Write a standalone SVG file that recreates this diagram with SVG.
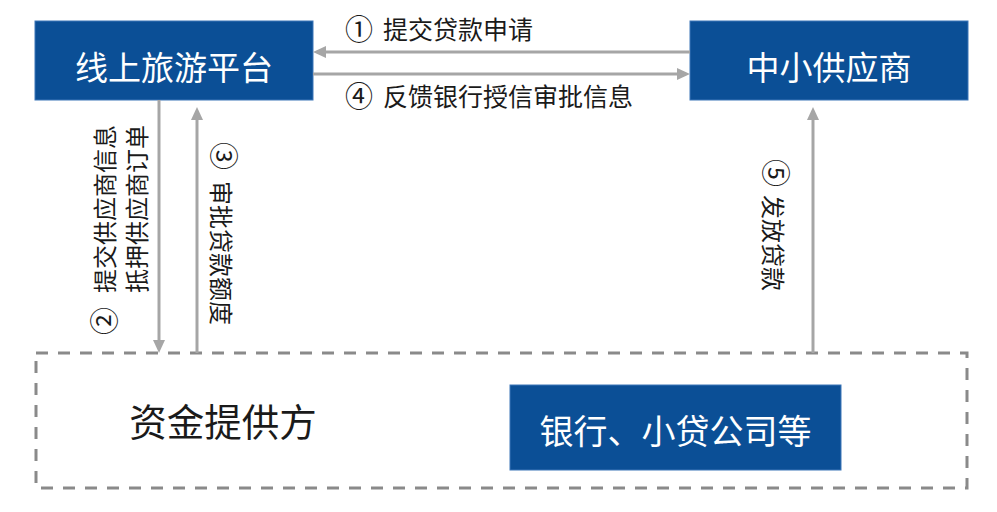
<svg xmlns="http://www.w3.org/2000/svg" width="997" height="512" viewBox="0 0 997 512">
<style>
.box{fill:#0b4f96;stroke:#3d76b8;stroke-width:1}
.bt{font-family:"Noto Sans CJK SC","Noto Sans",sans-serif;fill:#ffffff;font-size:33px;text-anchor:middle}
.lb{font-family:"Noto Sans CJK SC","Noto Sans",sans-serif;fill:#1a1a1a;font-size:25px}
.vl{font-family:"Noto Sans CJK SC","Noto Sans",sans-serif;fill:#1a1a1a;font-size:24px}
.cn{font-size:28px}
.ar{stroke:#a6a6a6;stroke-width:3;fill:none}
</style>
<defs>
<marker id="ah" markerUnits="userSpaceOnUse" markerWidth="13" markerHeight="12" refX="6" refY="6" orient="auto">
<path d="M0,0 L13,6 L0,12 z" fill="#a6a6a6"/>
</marker>
</defs>
<rect width="997" height="512" fill="#ffffff"/>
<g id="funder">
<rect x="36" y="353" width="931" height="135" fill="none" stroke="#8a8a8a" stroke-width="3" stroke-dasharray="12 10"/>
<text x="223" y="436" class="lb" style="font-size:37.5px;text-anchor:middle">资金提供方</text>
</g>
<g id="bank">
<rect class="box" x="510" y="385" width="331" height="85"/>
<text x="675.5" y="444" class="bt" style="font-size:34px">银行、小贷公司等</text>
</g>
<g id="platform">
<rect class="box" x="35" y="21" width="278" height="79"/>
<text x="174" y="80" class="bt">线上旅游平台</text>
</g>
<g id="supplier">
<rect class="box" x="690" y="21" width="278" height="79"/>
<text x="829" y="80" class="bt">中小供应商</text>
</g>
<g id="connectors">
<line class="ar" x1="690" y1="52" x2="320" y2="52" marker-end="url(#ah)"/>
<line class="ar" x1="313" y1="74" x2="683" y2="74" marker-end="url(#ah)"/>
<line class="ar" x1="159" y1="100" x2="159" y2="346" marker-end="url(#ah)"/>
<line class="ar" x1="197" y1="353" x2="197" y2="114" marker-end="url(#ah)"/>
<line class="ar" x1="813" y1="353" x2="813" y2="114" marker-end="url(#ah)"/>
<text class="lb" x="345" y="40"><tspan class="cn">①</tspan><tspan x="383" y="39">提交贷款申请</tspan></text>
<text class="lb" x="345" y="107"><tspan class="cn">④</tspan><tspan x="383" y="106">反馈银行授信审批信息</tspan></text>
<text class="vl" transform="translate(113.5,335) rotate(-90)" x="0" y="1"><tspan class="cn">②</tspan><tspan x="42" y="0">提交供应商信息</tspan></text>
<text class="vl" transform="translate(146,293) rotate(-90)" x="0" y="0">抵押供应商订单</text>
<text class="vl" transform="translate(212,142) rotate(90)" x="0" y="-1"><tspan class="cn">③</tspan><tspan x="39" y="0">审批贷款额度</tspan></text>
<text class="vl" transform="translate(763.5,159) rotate(90)" x="0" y="-1"><tspan class="cn">⑤</tspan><tspan x="36" y="0">发放贷款</tspan></text>
</g>
</svg>
